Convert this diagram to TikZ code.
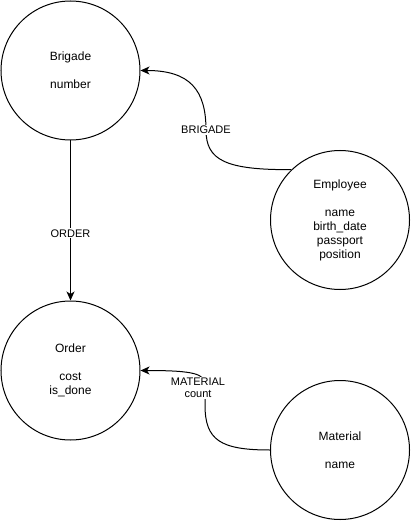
\documentclass[tikz,border=0pt]{standalone}
\usepackage{fontspec}
\setmainfont{Liberation Sans}
\usetikzlibrary{arrows.meta}
\begin{document}
\begin{tikzpicture}[x=1pt,y=-1pt,
  entity/.style={draw, circle, line width=1pt, minimum size=139pt, inner sep=0pt, align=center, font=\fontsize{12}{14}\selectfont},
  edge/.style={line width=1pt, -{Stealth[length=9pt,width=8pt,inset=2.5pt]}},
  lbl/.style={fill=white, inner sep=1pt, align=center, font=\fontsize{11}{12.5}\selectfont}]
\useasboundingbox (0,0) rectangle (411,521);
\node[entity] (brig) at (70.5,70.5) {Brigade\\[14pt]number};
\node[entity] (emp) at (340,220) {Employee\\[14pt]name\\birth\_date\\passport\\position};
\node[entity] (ord) at (70.5,370.5) {Order\\[14pt]cost\\is\_done};
\node[entity] (mat) at (340,450) {Material\\[14pt]name};
\draw[edge] (brig.south) -- node[lbl, pos=0.58] {ORDER} (ord.north);
\draw[edge] (emp.134) .. controls (225,170) and (206,160) .. (206,130) node[lbl] {BRIGADE}
  .. controls (206,90) and (190,70.5) .. (brig.east);
\draw[edge] (mat.west) .. controls (220,450) and (205,440) .. (205,405) -- (205,385)
  .. controls (205,374) and (195,370.5) .. (ord.east);
\node[lbl] (mlbl) at (198,388) {MATERIAL\\count};
\end{tikzpicture}
\end{document}
